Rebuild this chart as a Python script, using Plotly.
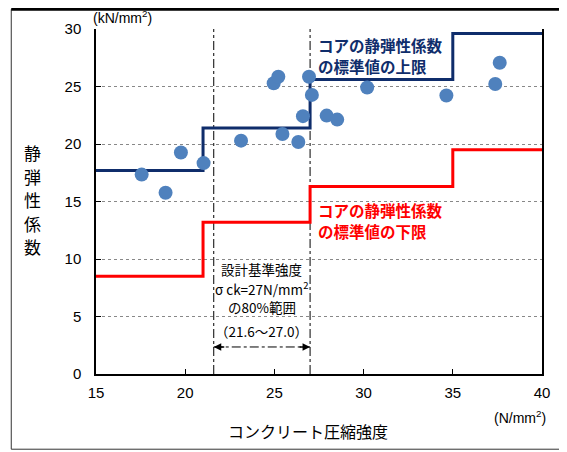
import plotly.graph_objects as go

# ---- data ----
strength = [17.56, 18.9, 19.76, 21.03, 23.13, 24.96, 25.22, 25.45, 26.34, 26.6,
            26.94, 27.1, 27.93, 28.52, 30.2, 34.64, 37.38, 37.63]
modulus = [17.34, 15.76, 19.26, 18.34, 20.29, 25.28, 25.85, 20.87, 20.18, 22.42,
           25.85, 24.27, 22.47, 22.12, 24.91, 24.22, 25.22, 27.06]

step_x = [15, 21, 27, 35, 40]
upper_limit = [17.7, 21.4, 25.6, 29.6, 29.6]
lower_limit = [8.5, 13.2, 16.3, 19.5, 19.5]

design_range = [21.6, 27.0]
x_ticks = [15, 20, 25, 30, 35, 40]
y_ticks = [0, 5, 10, 15, 20, 25, 30]
y_title_chars = ["静", "弾", "性", "係", "数"]
upper_label = ["コアの静弾性係数", "の標準値の上限"]
lower_label = ["コアの静弾性係数", "の標準値の下限"]
range_label = ["設計基準強度", "σ ck=27N/mm<sup>2</sup>", "の80%範囲", "（21.6～27.0）"]

FONT = "Liberation Sans, Noto Sans CJK JP, sans-serif"
JP = "Noto Sans CJK JP, sans-serif"
NAVY = "#0F2D6B"
RED = "#FF0000"

# page body has an 8px offset; plot area in page px: x 96..542, y 25..374
fig = go.Figure()
fig.add_trace(go.Scatter(x=step_x, y=upper_limit, mode="lines", line_shape="hv",
                         line=dict(color=NAVY, width=3), hoverinfo="skip"))
fig.add_trace(go.Scatter(x=step_x, y=lower_limit, mode="lines", line_shape="hv",
                         line=dict(color=RED, width=3), hoverinfo="skip"))
fig.add_trace(go.Scatter(x=strength, y=modulus, mode="markers",
                         marker=dict(color="#4F81BD", size=14)))

shapes = []
for xv in design_range:
    shapes.append(dict(type="line", xref="x", yref="paper", x0=xv, x1=xv, y0=0, y1=1,
                       line=dict(color="black", width=1, dash="dashdot"), layer="below"))
# arrow shaft
shapes.append(dict(type="line", xref="x", yref="y", x0=design_range[0], x1=design_range[1],
                   y0=2.35, y1=2.35, line=dict(color="black", width=1, dash="dashdot")))
# outer frame
shapes.append(dict(type="rect", xref="paper", yref="paper", x0=-0.19, x1=1.047, y0=-0.218, y1=1.057,
                   line=dict(color="#333333", width=1)))
shapes.append(dict(type="line", xref="paper", yref="paper", x0=-0.19, x1=1.047, y0=1.057, y1=1.057,
                   line=dict(color="black", width=3)))

annotations = []
for i, ch in enumerate(y_title_chars):
    py = 150 + i * 23.8
    annotations.append(dict(xref="paper", yref="paper", x=-0.143, y=(374 - py) / 349, text=ch,
                            showarrow=False, font=dict(family=JP, size=17, color="black"),
                            xanchor="center", yanchor="middle", borderpad=0))

for txt, yv in zip(upper_label, [28.6, 26.8]):
    annotations.append(dict(xref="x", yref="y", x=27.4, y=yv, text="<b>" + txt + "</b>",
                            showarrow=False, font=dict(family=JP, size=15.5, color=NAVY),
                            xanchor="left", yanchor="middle", borderpad=0))
for txt, yv in zip(lower_label, [14.25, 12.45]):
    annotations.append(dict(xref="x", yref="y", x=27.4, y=yv, text="<b>" + txt + "</b>",
                            showarrow=False, font=dict(family=JP, size=15.5, color=RED),
                            xanchor="left", yanchor="middle", borderpad=0))
for txt, yv in zip(range_label, [9.1, 7.45, 5.8, 3.75]):
    annotations.append(dict(xref="x", yref="y", x=24.3, y=yv, text=txt,
                            showarrow=False, font=dict(family=JP, size=13.5, color="black"),
                            xanchor="center", yanchor="middle", borderpad=0))

annotations += [
    dict(xref="paper", yref="paper", x=-0.012, y=1.003, text="(kN/mm<sup>2</sup>)",
         showarrow=False, font=dict(family=FONT, size=14, color="black"), xanchor="left", yanchor="bottom"),
    dict(xref="paper", yref="paper", x=1.014, y=-0.125, text="(N/mm<sup>2</sup>)",
         showarrow=False, font=dict(family=FONT, size=14, color="black"), xanchor="right", yanchor="middle"),
    dict(xref="paper", yref="paper", x=0.475, y=-0.166, text="コンクリート圧縮強度",
         showarrow=False, font=dict(family=JP, size=16, color="black"), xanchor="center", yanchor="middle"),
    dict(xref="x", yref="y", x=design_range[0], y=2.35, ax=12, ay=0, text="", showarrow=True,
         arrowhead=2, arrowsize=1, arrowwidth=1.5, arrowcolor="black", standoff=0),
    dict(xref="x", yref="y", x=design_range[1], y=2.35, ax=-12, ay=0, text="", showarrow=True,
         arrowhead=2, arrowsize=1, arrowwidth=1.5, arrowcolor="black", standoff=0),
]

fig.update_layout(
    width=567, height=452,
    margin=dict(l=88, r=33, t=17, b=86),
    paper_bgcolor="white", plot_bgcolor="white",
    showlegend=False,
    shapes=shapes, annotations=annotations,
    font=dict(family=FONT, size=15, color="black"),
    xaxis=dict(range=[15, 40], tickvals=x_ticks, showgrid=False, zeroline=False,
               showline=True, linecolor="black", linewidth=1.5, mirror=False,
               ticks="inside", ticklen=5, tickcolor="black", ticklabelstandoff=4,
               tickfont=dict(family=FONT, size=15, color="black")),
    yaxis=dict(range=[0, 30], tickvals=y_ticks, showgrid=True, gridcolor="#888888",
               griddash="dot", gridwidth=1, zeroline=False,
               showline=True, linecolor="black", linewidth=1.5, mirror=True,
               ticks="inside", ticklen=5, tickcolor="black", ticklabelstandoff=10,
               tickfont=dict(family=FONT, size=15, color="black")),
)

fig.write_html("out.html")
